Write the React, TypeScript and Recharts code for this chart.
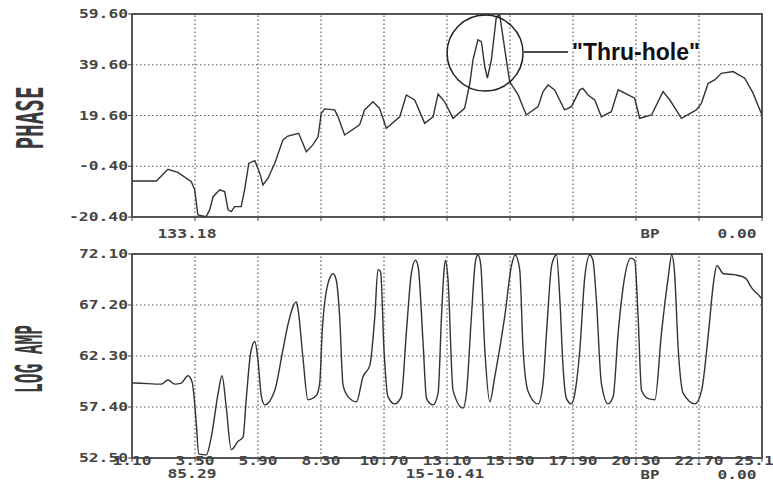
import React from "react"
import { LineChart, Line, XAxis, YAxis, ReferenceLine, ReferenceArea, ReferenceDot } from "recharts"

// sample positions (depth) and readings
const phaseX = [1.10, 1.21, 2.03, 2.47, 2.85, 3.36, 3.49, 3.61, 3.92, 4.06, 4.19, 4.44, 4.63, 4.76, 4.88, 5.01, 5.26, 5.39, 5.55, 5.78, 5.97, 6.09, 6.28, 6.54, 6.85, 7.04, 7.45, 7.74, 7.99, 8.19, 8.31, 8.44, 8.82, 8.95, 9.20, 9.77, 9.96, 10.28, 10.53, 10.79, 11.30, 11.55, 11.87, 12.25, 12.57, 12.76, 13.01, 13.33, 13.77, 13.97, 14.09, 14.28, 14.41, 14.54, 14.64, 14.79, 14.98, 15.11, 15.23, 15.36, 15.49, 15.81, 16.12, 16.57, 16.76, 16.95, 17.20, 17.58, 17.84, 18.16, 18.28, 18.47, 18.73, 18.98, 19.36, 19.62, 20.00, 20.25, 20.44, 20.89, 21.33, 21.59, 22.03, 22.60, 22.79, 23.05, 23.30, 23.55, 24.00, 24.44, 24.76, 25.02, 25.10]
const phaseVal = [-6.2, -6.2, -6.2, -1.6, -2.8, -6.5, -9.7, -19.6, -20.3, -17.6, -12.4, -9.7, -10.4, -17.6, -18.3, -16.3, -16.3, -9.7, 0.8, 1.8, -3.2, -7.8, -5.1, 0.8, 10.0, 11.5, 12.6, 5.3, 8.0, 11.3, 20.5, 22.2, 21.8, 19.1, 11.9, 15.9, 21.8, 25.0, 22.4, 14.6, 19.1, 27.7, 25.7, 16.5, 19.1, 28.1, 25.0, 18.5, 22.4, 32.3, 41.5, 49.4, 48.7, 38.8, 34.3, 41.5, 58.5, 59.2, 50.7, 41.5, 32.9, 27.7, 19.8, 23.1, 29.0, 31.6, 29.7, 21.8, 23.1, 29.7, 30.3, 27.7, 25.7, 19.1, 21.1, 29.7, 27.7, 26.4, 18.5, 19.8, 29.0, 25.7, 18.5, 21.8, 24.4, 32.3, 33.6, 36.2, 36.9, 34.3, 28.4, 21.8, 19.8]

const ampX = [1.10, 1.20, 2.22, 2.47, 2.73, 2.98, 3.23, 3.39, 3.55, 3.64, 3.93, 4.12, 4.38, 4.53, 4.69, 4.88, 5.14, 5.33, 5.45, 5.62, 5.78, 5.90, 6.03, 6.16, 6.54, 6.85, 7.04, 7.36, 7.42, 7.61, 7.80, 8.12, 8.25, 8.35, 8.57, 8.76, 8.88, 9.01, 9.14, 9.33, 9.65, 9.90, 10.16, 10.35, 10.47, 10.57, 10.70, 10.85, 11.11, 11.36, 11.55, 11.74, 11.90, 12.00, 12.19, 12.32, 12.57, 12.76, 12.89, 12.99, 13.04, 13.14, 13.33, 13.71, 13.84, 14.03, 14.19, 14.28, 14.38, 14.54, 14.73, 14.92, 15.30, 15.55, 15.70, 15.87, 16.00, 16.19, 16.57, 16.76, 16.89, 17.08, 17.14, 17.27, 17.40, 17.52, 17.65, 17.84, 17.97, 18.16, 18.35, 18.54, 18.66, 18.79, 18.98, 19.24, 19.43, 19.62, 19.87, 20.10, 20.25, 20.38, 20.51, 20.77, 21.02, 21.27, 21.53, 21.66, 21.76, 21.91, 22.10, 22.55, 22.80, 23.06, 23.25, 23.38, 23.63, 24.08, 24.46, 24.72, 25.03, 25.10]
const ampVal = [59.7, 59.7, 59.6, 60.0, 59.6, 59.7, 60.4, 59.8, 55.8, 52.9, 52.8, 54.5, 58.7, 60.4, 57.4, 53.3, 54.1, 54.5, 58.1, 62.6, 63.7, 61.9, 58.4, 57.6, 59.0, 62.9, 65.3, 67.5, 66.9, 62.2, 58.1, 58.5, 59.7, 64.8, 69.3, 70.2, 69.6, 66.1, 59.5, 58.4, 57.9, 60.3, 61.4, 66.1, 70.6, 70.4, 62.9, 58.4, 57.7, 58.4, 64.5, 70.2, 71.5, 70.9, 63.5, 58.2, 57.6, 58.7, 66.1, 70.6, 71.5, 69.6, 59.0, 57.3, 58.7, 66.1, 71.5, 72.0, 71.2, 62.9, 57.9, 60.3, 66.1, 70.9, 72.0, 70.6, 62.9, 58.9, 57.7, 59.7, 64.5, 70.9, 71.5, 72.0, 67.7, 61.3, 58.2, 57.7, 58.7, 62.9, 69.9, 72.0, 71.5, 67.7, 59.7, 57.7, 58.4, 64.5, 69.9, 71.7, 71.5, 66.1, 59.0, 58.2, 58.1, 64.5, 69.9, 72.0, 70.6, 62.9, 58.7, 57.7, 59.0, 64.5, 69.3, 71.0, 70.2, 70.1, 69.8, 68.8, 68.0, 67.8]

const xTicks = [1.1, 3.5, 5.9, 8.3, 10.7, 13.1, 15.5, 17.9, 20.3, 22.7, 25.1]
const phaseTicks = [-20.4, -0.4, 19.6, 39.6, 59.6]
const ampTicks = [52.5, 57.4, 62.3, 67.2, 72.1]

const phaseData = phaseX.map((x, i) => ({ x, v: phaseVal[i] }))
const ampData = ampX.map((x, i) => ({ x, v: ampVal[i] }))

const INK = "#444"
const GRID = "#5c5c5c"
const monoStyle: React.CSSProperties = {
  fontFamily: "DejaVu Sans Mono",
  fontWeight: "bold",
  fontSize: 11.5,
  fill: INK,
}

// bitmap-looking labels: each char ~10px wide
const Mono = ({ x, y, text, anchor = "middle" }: any) => (
  <text x={x} y={y} textAnchor={anchor} style={monoStyle}
    textLength={text.length * 10 - 1} lengthAdjust="spacingAndGlyphs">
    {text}
  </text>
)

const YTick = ({ x, y, payload }: any) => (
  <Mono x={x} y={y + 4} anchor="end" text={payload.value.toFixed(2)} />
)
const XTick = ({ x, y, payload }: any) => (
  <Mono x={x} y={y + 3} text={payload.value.toFixed(2)} />
)
const NoTick = () => <g />

function Panel({ data, ticks, top, showX, curve, children }: any) {
  const lo = ticks[0]
  const hi = ticks[ticks.length - 1]
  return (
    <div style={{ position: "absolute", left: 0, top }}>
      <LineChart width={773} height={top === 0 ? 240 : 241} data={data}
        margin={{ top: 14, right: 11, left: 0, bottom: 0 }}>
        <XAxis type="number" dataKey="x" domain={[1.1, 25.1]} ticks={xTicks}
          axisLine={false} tickSize={4} tickMargin={0} height={23}
          tickLine={{ stroke: INK }} tick={showX ? <XTick /> : <NoTick />} />
        <YAxis type="number" domain={[lo, hi]} ticks={ticks} width={132}
          axisLine={false} tickSize={4} tickMargin={0}
          tickLine={{ stroke: INK }} tick={<YTick />} />
        {/* dotted grid */}
        {xTicks.slice(1, -1).map((t) => (
          <ReferenceLine key={"gx" + t} x={t} stroke={GRID} strokeWidth={1.2} strokeDasharray="1.5 2.5" />
        ))}
        {ticks.slice(1, -1).map((t: number) => (
          <ReferenceLine key={"gy" + t} y={t} stroke={GRID} strokeWidth={1.2} strokeDasharray="1.5 2.5" />
        ))}
        <ReferenceArea x1={1.1} x2={25.1} y1={lo} y2={hi}
          fill="none" fillOpacity={0} stroke="#555" strokeWidth={2} />
        <Line type={curve} dataKey="v" stroke="#333" strokeWidth={1.4}
          dot={false} isAnimationActive={false} />
        {children}
      </LineChart>
    </div>
  )
}

export default function App() {
  return (
    <div style={{ position: "absolute", left: 0, top: 0, width: 773, height: 481, background: "#fff", overflow: "hidden" }}>
      <Panel data={phaseData} ticks={phaseTicks} top={0} showX={false} curve="linear">
        <ReferenceDot x={14.55} y={44.2} r={38} fill="none" stroke="#222" strokeWidth={1.5} />
      </Panel>
      <Panel data={ampData} ticks={ampTicks} top={240} showX={true} curve="monotone" />

      <svg width={773} height={481} style={{ position: "absolute", left: 0, top: 0, pointerEvents: "none" }}>
        {/* axis titles */}
        <text transform="translate(29,118) rotate(-90) scale(1,2)" textAnchor="middle" dy={7}
          textLength={63} lengthAdjust="spacingAndGlyphs"
          style={{ fontFamily: "DejaVu Sans Mono", fontWeight: "bold", fontSize: 19, fill: "#3a3a3a" }}>PHASE</text>
        <text transform="translate(28,359) rotate(-90) scale(1,2)" textAnchor="middle" dy={7}
          textLength={68} lengthAdjust="spacingAndGlyphs"
          style={{ fontFamily: "DejaVu Sans Mono", fontWeight: "bold", fontSize: 19, fill: "#3a3a3a" }}>LOG AMP</text>

        {/* readout labels */}
        <Mono x={187} y={238} text="133.18" />
        <Mono x={650} y={238} text="BP" />
        <Mono x={737} y={238} text="0.00" />
        <Mono x={192} y={478} text="85.29" />
        <Mono x={445} y={478} text="15-10.41" />
        <Mono x={650} y={479} text="BP" />
        <Mono x={737} y={479} text="0.00" />

        {/* callout */}
        <line x1={524} y1={52} x2={568} y2={52} stroke="#111" strokeWidth={1.5} />
        <text x={572} y={60} style={{ fontFamily: "Liberation Sans", fontWeight: "bold", fontSize: 23, fill: "#111" }}>"Thru-hole"</text>
      </svg>
    </div>
  )
}
